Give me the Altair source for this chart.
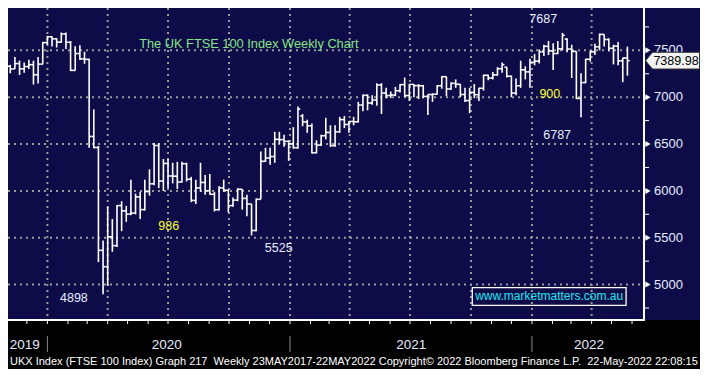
import altair as alt
import pandas as pd

# ---------------- data (weekly FTSE 100) ----------------
WEEK_START = "2019-11-01"  # first weekly bar (Friday)

OPEN = [
    7330, 7302, 7359, 7303, 7327, 7347, 7240, 7353, 7582,
    7645, 7623, 7588, 7675, 7586, 7286, 7466, 7409, 7404, 6581, 6463, 5366, 5191, 5510, 5416, 5843, 5787,
    5752, 5763, 5936, 5800, 5993, 6076, 6484, 6105, 6293, 6159, 6157, 6095, 6290, 6124, 5898, 6032, 6090,
    6002, 5964, 5799, 6032, 6007, 5843, 5902, 6017, 5920, 5860, 5577, 5910, 6316, 6351, 6367, 6550, 6547,
    6529, 6502,
    6461, 6800, 6736, 6695, 6407, 6489, 6589, 6624, 6483, 6631, 6761, 6709, 6741, 6737, 6916, 7020, 6938,
    6970, 7130, 7044, 7018, 7023, 7069, 7134, 7017, 7136, 7123, 7122, 7008, 7028, 7032, 7122, 7219, 7088,
    7148, 7138, 7029, 6964, 7051, 7027, 7095, 7234, 7205, 7238, 7304, 7320, 7224, 7044, 7122, 7292, 7270,
    7373,
    7385, 7485, 7543, 7494, 7466, 7516, 7620, 7514, 7489, 6987, 7156, 7405, 7483, 7538, 7670, 7616, 7522,
    7545, 7388, 7418,
]
HIGH = [
    7345, 7430, 7390, 7370, 7400, 7390, 7430, 7590, 7655,
    7650, 7630, 7690, 7690, 7600, 7545, 7555, 7485, 7410, 6870, 6480, 5470, 5830, 5700, 5850, 5890, 5840,
    6120, 5970, 5990, 6120, 6230, 6510, 6510, 6340, 6340, 6300, 6310, 6310, 6300, 6150, 6120, 6300, 6170,
    6180, 5990, 6050, 6120, 6015, 5930, 6030, 6020, 5960, 5860, 5920, 6420, 6460, 6460, 6630, 6630, 6600,
    6540, 6680,
    6900, 6820, 6760, 6720, 6540, 6600, 6780, 6700, 6700, 6790, 6800, 6745, 6790, 6950, 7030, 7030, 7020,
    7150, 7150, 7100, 7060, 7110, 7140, 7210, 7140, 7140, 7140, 7130, 7030, 7040, 7130, 7225, 7220, 7160,
    7190, 7140, 7100, 7100, 7140, 7100, 7240, 7240, 7270, 7320, 7370, 7325, 7230, 7200, 7390, 7330, 7410,
    7460,
    7510, 7560, 7600, 7575, 7600, 7687, 7630, 7560, 7490, 7255, 7410, 7500, 7570, 7680, 7670, 7630, 7560,
    7590, 7420, 7540,
]
LOW = [
    7255, 7300, 7237, 7260, 7300, 7135, 7145, 7350, 7560,
    7540, 7530, 7580, 7515, 7280, 7285, 7400, 7357, 6460, 6455, 5240, 4898, 4990, 5350, 5400, 5570, 5670,
    5740, 5750, 5700, 5790, 5950, 6060, 6030, 6000, 6030, 6080, 6020, 6090, 6100, 5880, 5860, 5990, 5960,
    5960, 5780, 5790, 5990, 5770, 5830, 5890, 5800, 5730, 5525, 5570, 5910, 6310, 6280, 6300, 6500, 6470,
    6320, 6450,
    6450, 6690, 6620, 6400, 6400, 6480, 6550, 6470, 6470, 6620, 6670, 6620, 6700, 6730, 6850, 6860, 6920,
    6910, 6820, 6990, 6990, 7010, 7050, 7000, 6960, 7000, 6980, 6990, 6810, 6950, 7030, 7090, 7010, 7080,
    7100, 7000, 6950, 6830, 6990, 6960, 7070, 7180, 7190, 7230, 7260, 7210, 7000, 7020, 7100, 7190, 7100,
    7340,
    7360, 7440, 7450, 7290, 7460, 7500, 7480, 7205, 6980, 6787, 7150, 7380, 7450, 7500, 7540, 7490, 7350,
    7340, 7160, 7230,
]
CLOSE = [
    7302, 7359, 7303, 7327, 7347, 7240, 7353, 7582, 7645,
    7623, 7588, 7675, 7586, 7286, 7466, 7409, 7404, 6581, 6463, 5366, 5191, 5510, 5416, 5843, 5787, 5752,
    5763, 5936, 5800, 5993, 6076, 6484, 6105, 6293, 6159, 6157, 6095, 6290, 6124, 5898, 6032, 6090, 6002,
    5964, 5799, 6032, 6007, 5843, 5902, 6017, 5920, 5860, 5577, 5910, 6316, 6351, 6367, 6550, 6547, 6529,
    6502, 6461,
    6873, 6736, 6695, 6407, 6489, 6589, 6624, 6483, 6631, 6761, 6709, 6741, 6737, 6916, 7020, 6938, 6970,
    7130, 7044, 7018, 7023, 7069, 7134, 7017, 7136, 7123, 7122, 7008, 7028, 7032, 7122, 7219, 7088, 7148,
    7138, 7029, 6964, 7051, 7027, 7095, 7234, 7205, 7238, 7304, 7348, 7224, 7044, 7122, 7292, 7270, 7373,
    7385,
    7485, 7543, 7494, 7466, 7516, 7661, 7514, 7489, 6987, 7156, 7405, 7483, 7538, 7670, 7616, 7522, 7545,
    7388, 7418, 7389.98,
]
LAST_PRICE = 7389.98

Y_MAJOR = [5000, 5500, 6000, 6500, 7000, 7500]
Y_MINOR = [4750, 5250, 5750, 6250, 6750, 7250, 7750]
QUARTER_STARTS = ["2020-01-01", "2020-04-01", "2020-07-01", "2020-10-01", "2021-01-01",
                  "2021-04-01", "2021-07-01", "2021-10-01", "2022-01-01", "2022-04-01"]
YEAR_STARTS = ["2020-01-01", "2021-01-01", "2022-01-01"]
YEAR_LABELS = ["2019", "2020", "2021", "2022"]
YEAR_LABEL_DATES = ["2019-11-23", "2020-06-24", "2021-06-28", "2022-03-23"]

ANN_TEXT = ["7687", "900", "6787", "4898", "986", "5525"]
ANN_DATE = ["2022-01-13", "2022-01-23", "2022-02-03", "2020-02-05", "2020-06-27", "2020-12-10"]
ANN_VALUE = [7830, 7033, 6599, 4858, 5620, 5386]
ANN_COLOR = ["#e6ecff", "#ffff33", "#e6ecff", "#e6ecff", "#ffff33", "#e6ecff"]

TITLE = "The UK FTSE 100 Index Weekly Chart"
TITLE_AT = ("2020-10-26", 7569)
SITE = "www.marketmatters.com.au"
SITE_AT = ("2022-01-22", 4873)
SITE_BOX = ("2021-09-28", "2022-05-18", 4779, 4967)
FOOTER = ("UKX Index (FTSE 100 Index) Graph 217\u00a0 Weekly 23MAY2017-22MAY2022 "
          "Copyright\u00a9 2022 Bloomberg Finance L.P.\u00a0 22-May-2022 22:08:15")

# ---------------- tables ----------------
dates = pd.date_range(WEEK_START, periods=len(CLOSE), freq="W-FRI")
bars = pd.DataFrame({"date": dates, "open": OPEN, "high": HIGH, "low": LOW, "close": CLOSE})
half = pd.Timedelta(hours=84)
bars["left"] = bars["date"] - half
bars["right"] = bars["date"] + half

shift = pd.Timedelta(days=5)  # Bloomberg puts period lines between bars
quarters = pd.DataFrame({"d": pd.to_datetime(QUARTER_STARTS) - shift})
years = pd.DataFrame({"d": pd.to_datetime(YEAR_STARTS) - shift})
months = pd.DataFrame({"d": pd.date_range("2019-11-01", "2022-06-01", freq="MS") - shift})
ylabels = pd.DataFrame({"d": pd.to_datetime(YEAR_LABEL_DATES), "t": YEAR_LABELS})
major = pd.DataFrame({"v": Y_MAJOR})
allticks = pd.DataFrame({"v": sorted(Y_MAJOR + Y_MINOR)})
ann = pd.DataFrame({"t": ANN_TEXT, "d": pd.to_datetime(ANN_DATE), "v": ANN_VALUE, "c": ANN_COLOR})
one = pd.DataFrame({"a": [0]})
last = pd.DataFrame({"v": [LAST_PRICE], "t": [f"{LAST_PRICE:.2f}"]})
title_df = pd.DataFrame({"d": [pd.Timestamp(TITLE_AT[0])], "v": [TITLE_AT[1]], "t": [TITLE]})
site_df = pd.DataFrame({"d": [pd.Timestamp(SITE_AT[0])], "v": [SITE_AT[1]], "t": [SITE]})
box_df = pd.DataFrame({"d1": [pd.Timestamp(SITE_BOX[0])], "d2": [pd.Timestamp(SITE_BOX[1])],
                       "v1": [SITE_BOX[2]], "v2": [SITE_BOX[3]]})

# ---------------- geometry / style ----------------
W, H = 636, 312
TOT_W, TOT_H = 692, 361
NAVY = "#0e0c48"
GRID = "#9a9a9a"
FONT = "Liberation Sans"
LBL = "#e6ecff"

xs = alt.Scale(domain=[alt.DateTime(year=2019, month=10, date=28, hours=14),
                       alt.DateTime(year=2022, month=6, date=14, hours=1)])
ys = alt.Scale(domain=[4622, 7952], nice=False, zero=False)


def X(f):
    return alt.X(f"{f}:T", scale=xs, axis=None)


def Y(f):
    return alt.Y(f"{f}:Q", scale=ys, axis=None)


grid_h = alt.Chart(major).mark_rule(color=GRID, strokeWidth=2, strokeDash=[2, 4]).encode(
    y=Y("v"), x=alt.value(0), x2=alt.value(W))
grid_v = alt.Chart(quarters).mark_rule(color=GRID, strokeWidth=2, strokeDash=[2, 4]).encode(
    x=X("d"), y=alt.value(0), y2=alt.value(H))

hl = alt.Chart(bars).mark_rule(color="white", strokeWidth=1.6, clip=True).encode(
    x=X("date"), y=Y("low"), y2="high:Q")
op = alt.Chart(bars).mark_rule(color="white", strokeWidth=1.6, clip=True).encode(
    x=X("left"), x2="date:T", y=Y("open"))
cl = alt.Chart(bars).mark_rule(color="white", strokeWidth=1.6, clip=True).encode(
    x=X("date"), x2="right:T", y=Y("close"))

footer_bg = alt.Chart(one).mark_rect(color="black").encode(
    x=alt.value(0), x2=alt.value(TOT_W), y=alt.value(H), y2=alt.value(TOT_H))
axis_r = alt.Chart(one).mark_rule(color="white", strokeWidth=2).encode(
    x=alt.value(W), y=alt.value(0), y2=alt.value(H))
axis_b = alt.Chart(one).mark_rule(color="white", strokeWidth=2).encode(
    x=alt.value(0), x2=alt.value(W + 1), y=alt.value(H))
month_ticks = alt.Chart(months).mark_rule(color="white", strokeWidth=1).encode(
    x=X("d"), y=alt.value(H), y2=alt.value(H + 4))
year_sep = alt.Chart(years).mark_rule(color="#8a8a8a", strokeWidth=1).encode(
    x=X("d"), y=alt.value(H + 16), y2=alt.value(H + 32))
year_txt = alt.Chart(ylabels).mark_text(font=FONT, fontSize=13.5, color=LBL, baseline="middle").encode(
    x=X("d"), y=alt.value(H + 25), text="t:N")
footer_txt = alt.Chart(one).mark_text(font=FONT, fontSize=11, color="white", align="left",
                                      baseline="middle").encode(
    x=alt.value(2), y=alt.value(H + 42), text=alt.value(FOOTER))

minor = alt.Chart(allticks).mark_rule(color="white", strokeWidth=1).encode(
    y=Y("v"), x=alt.value(W), x2=alt.value(W + 5))
tri = alt.Chart(major).mark_point(shape="triangle-right", filled=True, color="white", size=36,
                                  opacity=1).encode(y=Y("v"), x=alt.value(W + 4))
ylab = alt.Chart(major).mark_text(font=FONT, fontSize=13, color=LBL, align="left",
                                  baseline="middle").encode(
    y=Y("v"), x=alt.value(W + 10), text=alt.Text("v:Q", format="d"))

box_shape = "M -1 0 L -0.74 -0.31 L 1 -0.31 L 1 0.31 L -0.74 0.31 Z"
pbox = alt.Chart(last).mark_point(shape=box_shape, filled=True, fill="#f4f4f4", stroke="#333333",
                                  strokeWidth=1, size=2916, opacity=1).encode(
    y=Y("v"), x=alt.value(664.5))
ptxt = alt.Chart(last).mark_text(font=FONT, fontSize=12.5, color="black", baseline="middle").encode(
    y=Y("v"), x=alt.value(668), text="t:N")

ann_txt = alt.Chart(ann).mark_text(font=FONT, fontSize=12.5, baseline="middle").encode(
    x=X("d"), y=Y("v"), text="t:N", color=alt.Color("c:N", scale=None))
title_txt = alt.Chart(title_df).mark_text(font=FONT, fontSize=12.8, color="#84e384",
                                          baseline="middle").encode(x=X("d"), y=Y("v"), text="t:N")
site_box = alt.Chart(box_df).mark_rect(fillOpacity=0, stroke="white", strokeWidth=1.3).encode(
    x=X("d1"), x2="d2:T", y=Y("v1"), y2="v2:Q")
site_txt = alt.Chart(site_df).mark_text(font=FONT, fontSize=12, color="#1ee6f2",
                                        baseline="middle").encode(x=X("d"), y=Y("v"), text="t:N")

chart = alt.layer(
    grid_h, grid_v, hl, op, cl, footer_bg, axis_r, axis_b, month_ticks, year_sep, year_txt,
    footer_txt, minor, tri, ylab, ann_txt, title_txt, site_box, site_txt, pbox, ptxt,
).properties(
    width=W, height=H, background=NAVY,
    padding={"left": 0, "top": 0, "right": TOT_W - W, "bottom": TOT_H - H},
    autosize=alt.AutoSizeParams(type="none"),
).configure_view(stroke=None)

chart.save("out.html", embed_options={"renderer": "svg", "actions": False})
